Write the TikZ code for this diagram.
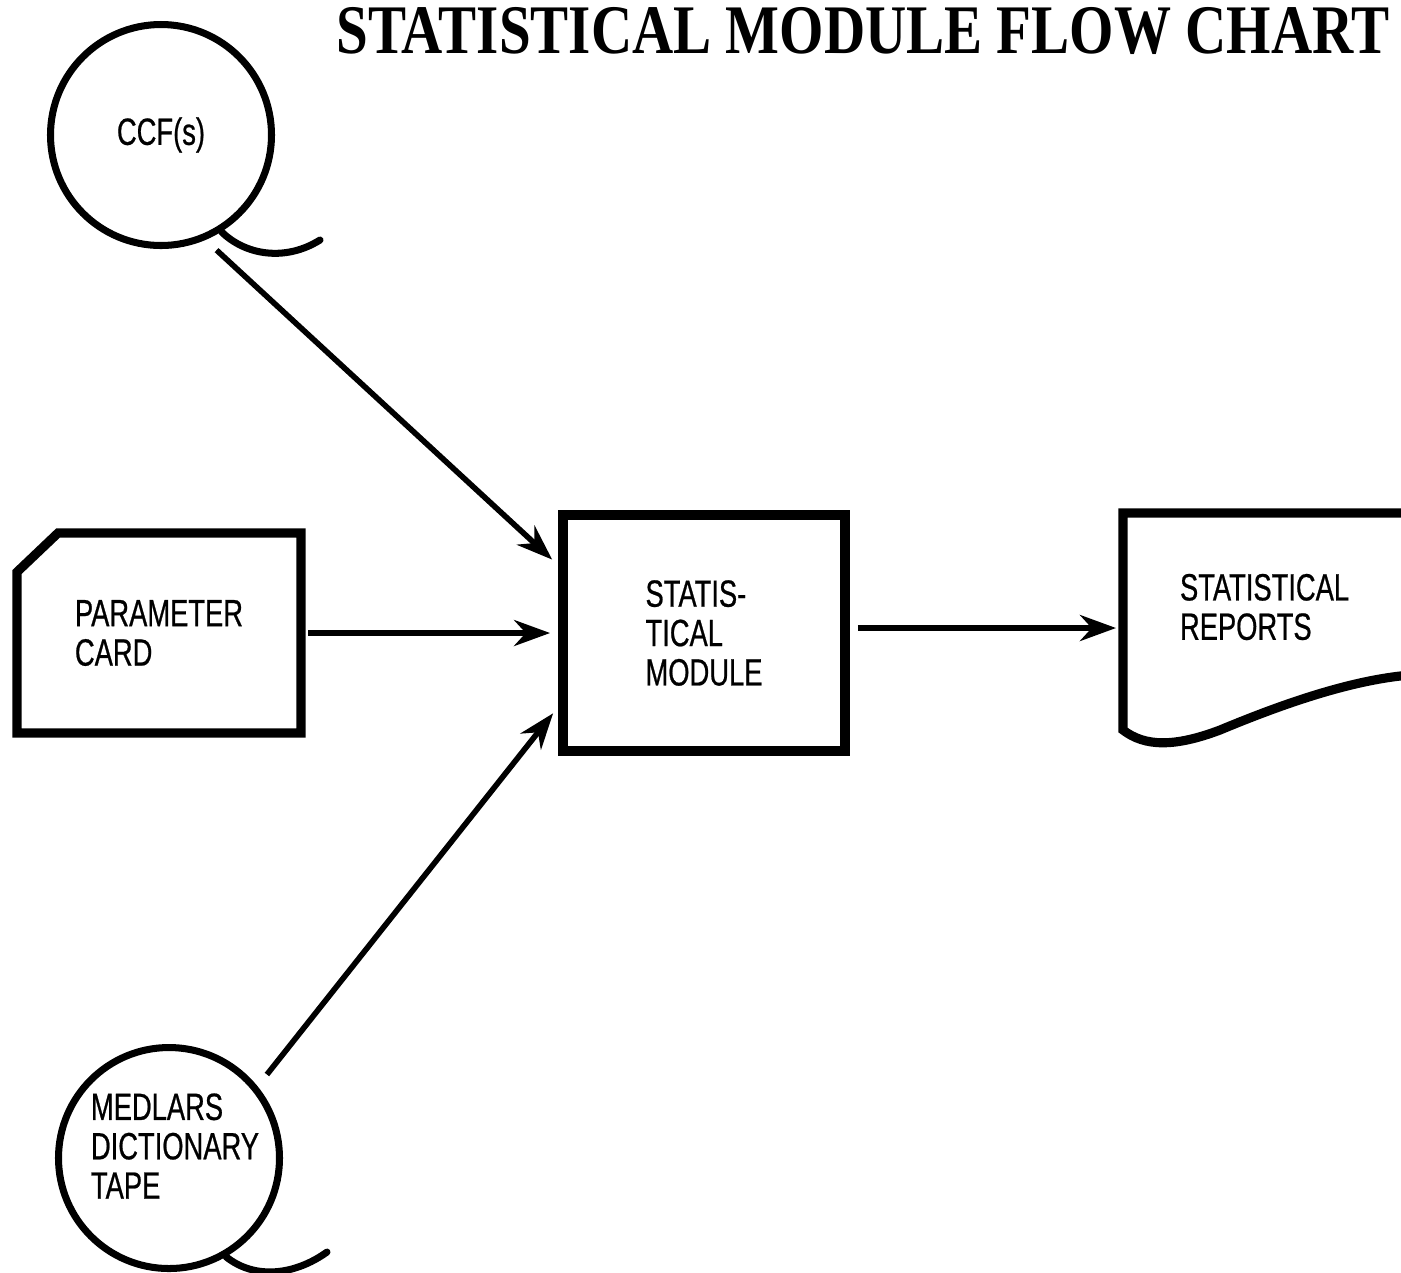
\documentclass[tikz,border=0pt]{standalone}
\usepackage{fontspec}
\usepackage{tikz}
\usetikzlibrary{shapes.geometric, arrows.meta}
\newfontfamily\boxfam[FakeStretch=0.72,FakeBold=0.6]{Liberation Sans}
\newfontfamily\titlefam[FakeStretch=0.82]{Liberation Serif}
\newcommand\boxfont{\boxfam\fontsize{10.8}{11.2}\selectfont}
\newcommand\titlefont{\titlefam\bfseries\fontsize{19.8}{24}\selectfont}
\tikzstyle{tapefile} = [circle, draw=black, line width=2pt, minimum size=2.21cm, inner sep=0pt, align=left, font=\boxfont]
\tikzstyle{process} = [rectangle, draw=black, line width=2.8pt, minimum width=2.82cm, minimum height=2.36cm, align=left, font=\boxfont]
\tikzstyle{cardbox} = [rectangle, minimum width=2.84cm, minimum height=2cm, outer sep=0pt, align=left, font=\boxfont]
\tikzstyle{report} = [rectangle, text width=1.8cm, inner xsep=0.57cm, outer sep=0pt, align=left, font=\boxfont]
\tikzstyle{outline} = [line width=2.6pt, line join=miter]
\tikzstyle{tail} = [line width=2pt, line cap=round]
\tikzstyle{arrow} = [line width=1.6pt, -{Stealth[length=3.6mm,width=2.6mm]}]

\begin{document}
\begin{tikzpicture}[node distance=2cm]
\useasboundingbox (0,0) rectangle (14.01,-12.72);

% Nodes
\node (title) [font=\titlefont] at (8.63,-0.31) {STATISTICAL MODULE FLOW CHART};
\node (module) [process] at (7.04,-6.33) {STATIS-\\TICAL\\MODULE};
\node (card) [cardbox, left of=module, xshift=-3.45cm] {PARAMETER\\CARD};
\node (ccf) [tapefile] at (1.61,-1.35) {CCF(s)};
\node (tape) [tapefile] at (1.69,-11.58) {};
\node (tapetext) [font=\boxfont, align=left] at (1.75,-11.46) {MEDLARS\\DICTIONARY\\TAPE};
\node (reports) [report] at (12.7,-6.07) {STATISTICAL\\REPORTS};

% Outlines
\draw [outline] ([yshift=-0.39cm]card.north west) -- ([xshift=0.41cm]card.north west) -- (card.north east) -- (card.south east) -- (card.south west) -- cycle;
\draw [outline] (14.1,-5.13) -- (reports.west |- 0,-5.13) -- (reports.west |- 0,-7.3)
  .. controls (11.45,-7.47) and (11.75,-7.47) .. (12.2,-7.3)
  .. controls (12.8,-7.05) and (13.5,-6.8) .. (14.1,-6.75);
\draw [tail] (ccf.-58) .. controls (2.45,-2.55) and (2.85,-2.62) .. (3.2,-2.4);
\draw [tail] (tape.-60) .. controls (2.55,-12.8) and (2.95,-12.75) .. (3.27,-12.52);

% Arrows
\draw [arrow, shorten <=0.15cm, shorten >=0.08cm] (ccf.-67) -- ([yshift=0.68cm]module.west);
\draw [arrow, shorten <=0.07cm, shorten >=0.08cm] (card) -- (module);
\draw [arrow, shorten <=0.15cm, shorten >=0.08cm] (tape.39) -- ([yshift=-0.74cm]module.west);
\draw [arrow, shorten <=0.08cm, shorten >=0.07cm] ([yshift=0.05cm]module.east) -- ([yshift=0.05cm]module.east -| reports.west);

\end{tikzpicture}
\end{document}
